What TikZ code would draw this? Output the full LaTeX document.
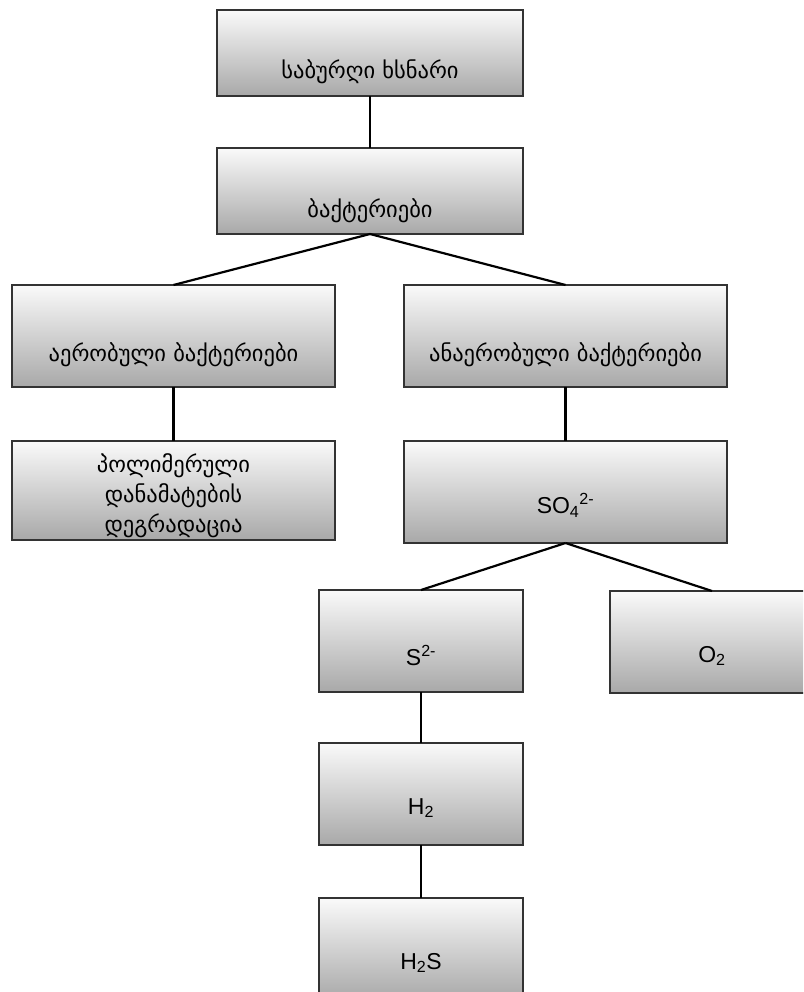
\documentclass[tikz,border=0pt]{standalone}
\usepackage{fontspec}
\setmainfont{Liberation Sans}
\newfontfamily\geo{DejaVu Sans}
\usetikzlibrary{positioning}

\begin{document}
\begin{tikzpicture}
[x=1pt,y=-1pt,
box/.style = {draw=black!80, line width=1.5pt, top color=gray!4, bottom color=gray!68, inner sep=0pt, outer sep=0pt, anchor=north west},
bigbox/.style = {box, minimum width=306pt, minimum height=86pt},
midbox/.style = {box, minimum width=323pt, minimum height=102pt},
smallbox/.style = {box, minimum width=204pt, minimum height=102pt},
geotxt/.style = {font=\geo\fontsize{22.5}{30}\selectfont, align=center},
chemtxt/.style = {font=\fontsize{23}{26}\selectfont},
link/.style = {line width=2.2pt}]
\useasboundingbox (0,0) rectangle (803,992);
\clip (0,0) rectangle (803,992);
% top of the tree
\node (sabur) at (217,10)[bigbox,label={[geotxt,yshift=-19pt]center:საბურღი ხსნარი}] {};
\node (bakt) at (217,148)[bigbox,label={[geotxt,yshift=-20pt]center:ბაქტერიები}] {};
% two kinds of bacteria
\node (aerob) at (12,285)[midbox,label={[geotxt,yshift=-19pt]center:აერობული ბაქტერიები}] {};
\node (anaerob) at (404,285)[midbox,label={[geotxt,yshift=-19pt]center:ანაერობული ბაქტერიები}] {};
\node (polim) at (12,441)[midbox,minimum height=99pt] {};
\node (polimtxt) at ([yshift=-5pt]polim.center)[geotxt] {პოლიმერული\\დანამატების\\დეგრადაცია};
\node (sulf) at (404,441)[midbox,label={[chemtxt,yshift=-13pt]center:SO\textsubscript{4}\textsuperscript{2-}}] {};
% products
\node (sulfid) at (319,590)[smallbox,label={[chemtxt,yshift=-14pt]center:S\textsuperscript{2-}}] {};
\node (oxyg) at (610,591)[smallbox,label={[chemtxt,yshift=-14pt]center:O\textsubscript{2}}] {};
\node (hydr) at (319,743)[smallbox,label={[chemtxt,yshift=-14pt]center:H\textsubscript{2}}] {};
\node (hsulf) at (319,898)[smallbox,label={[chemtxt,yshift=-14pt]center:H\textsubscript{2}S}] {};
\draw[link] (sabur.south)--(bakt.north);
\draw[link] (bakt.south)--(aerob.north);
\draw[link] (bakt.south)--(anaerob.north);
\draw[link] (aerob.south)--(polim.north);
\draw[link] (anaerob.south)--(sulf.north);
\draw[link] (sulf.south)--(sulfid.north);
\draw[link] (sulf.south)--(oxyg.north);
\draw[link] (sulfid.south)--(hydr.north);
\draw[link] (hydr.south)--(hsulf.north);
\end{tikzpicture}
\end{document}
